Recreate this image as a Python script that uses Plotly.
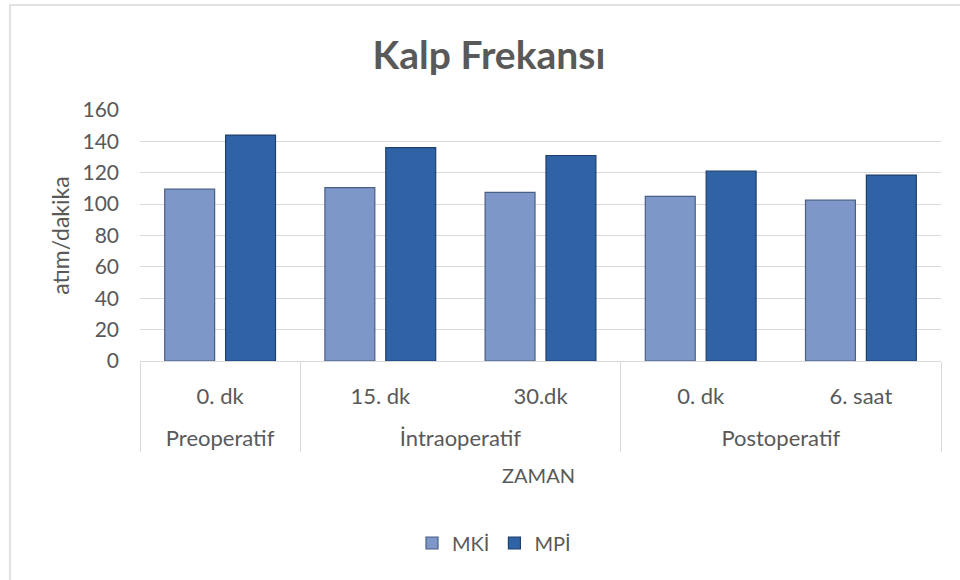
import plotly.graph_objects as go

groups = ["Preoperatif", "İntraoperatif", "İntraoperatif", "Postoperatif", "Postoperatif"]
times = ["0. dk", "15. dk", "30.dk", "0. dk", "6. saat"]
mki = [109.5, 110.5, 107.5, 105, 102.5]
mpi = [144, 136, 131, 121, 118.5]
y_ticks = [0, 20, 40, 60, 80, 100, 120, 140, 160]

FONT = "Lato"
GREY = "#595959"

group_labels = ["<br>" + g for g in groups]

fig = go.Figure()
fig.add_trace(go.Bar(name="MKİ", x=[group_labels, times], y=mki,
                     marker=dict(color="#7d97c8", line=dict(color="#4a5f85", width=1.2))))
fig.add_trace(go.Bar(name="MPİ", x=[group_labels, times], y=mpi,
                     marker=dict(color="#2f63a6", line=dict(color="#1f3f6c", width=1.2))))

W, H = 960, 580
L, R, T, B = 140, 19, 110, 219
pw, ph = W - L - R, H - T - B

def px_x(p):
    return (p - L) / pw

def px_y(p):
    return (H - B - p) / ph

fig.update_layout(
    width=W, height=H,
    margin=dict(l=L, r=R, t=T, b=B, autoexpand=False),
    paper_bgcolor="white", plot_bgcolor="white",
    font=dict(family=FONT, color=GREY, size=20),
    title=dict(text="Kalp Frekansı", x=489 / W, xref="container", xanchor="center",
               y=1 - 55 / H, yref="container", yanchor="middle",
               font=dict(family=FONT, size=39, color=GREY, weight="bold")),
    barmode="group", bargap=0.24, bargroupgap=0.18,
    showlegend=True,
    legend=dict(orientation="h", x=494 / W, xanchor="center", xref="container",
                y=1 - 543 / H, yref="container", yanchor="middle",
                font=dict(family=FONT, size=20, color=GREY),
                itemwidth=30, traceorder="normal"),
    xaxis=dict(type="multicategory", showline=True, linecolor="#d9d9d9", linewidth=1,
               showdividers=True, dividercolor="#d9d9d9", dividerwidth=1,
               tickfont=dict(family=FONT, size=22, color=GREY),
               ticklabelstandoff=16,
               showgrid=False),
    yaxis=dict(range=[0, 160], tickvals=y_ticks, showgrid=True, gridcolor="#d9d9d9",
               gridwidth=1, zeroline=False, showline=False,
               ticks="", ticklabelstandoff=20,
               tickfont=dict(family=FONT, size=21, color=GREY),
               title=dict(text="atım/dakika", font=dict(family=FONT, size=23, color=GREY), standoff=6)),
    annotations=[dict(text="ZAMAN", xref="paper", yref="paper", x=px_x(538), y=px_y(475),
                      xanchor="center", yanchor="middle", showarrow=False,
                      font=dict(family=FONT, size=20, color=GREY))],
    shapes=[dict(type="rect", xref="paper", yref="paper",
                 x0=px_x(10), x1=px_x(990), y0=px_y(610), y1=px_y(5),
                 line=dict(color="#d9d9d9", width=1.5), fillcolor="rgba(0,0,0,0)", layer="below")],
)

fig.write_html("out.html", config={"displayModeBar": False},
               post_script="document.body.style.margin='0';")
